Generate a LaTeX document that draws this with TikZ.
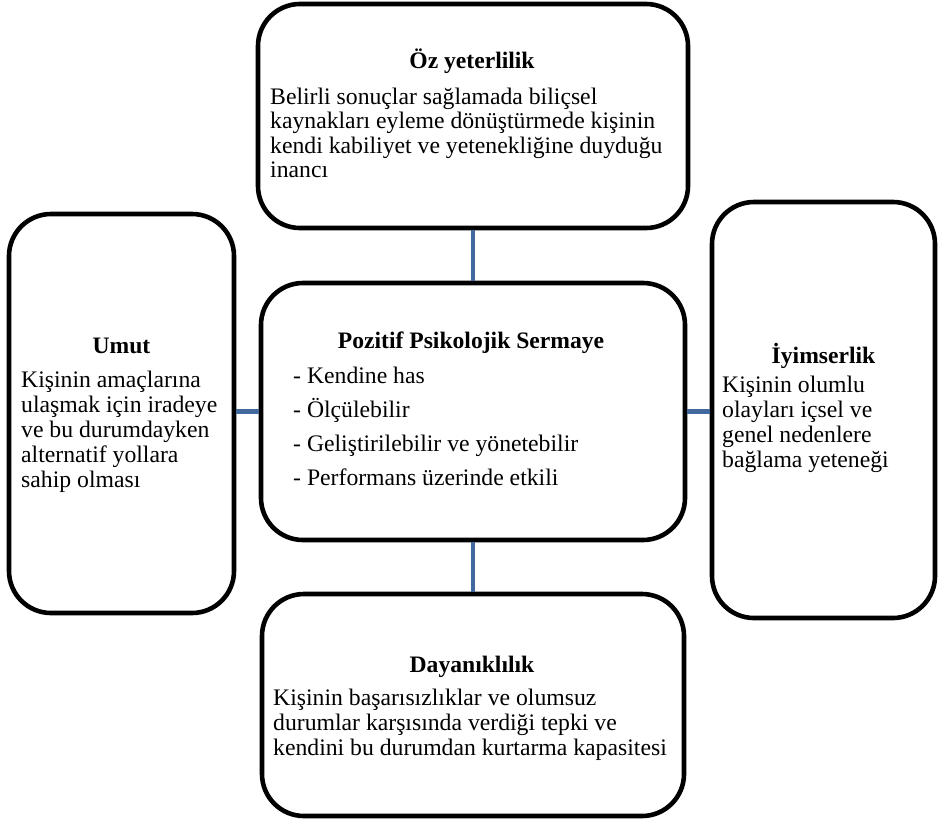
\documentclass[tikz,border=0pt]{standalone}
\usepackage{fontspec}
\setmainfont{Liberation Serif}
\definecolor{linkblue}{HTML}{41699D}
\begin{document}
\begin{tikzpicture}[x=1pt,y=-1pt,
  box/.style={draw=black, line width=4.6pt, rounded corners=42pt, inner sep=0pt, rectangle},
  link/.style={draw=linkblue, line width=4.6pt},
  ttl/.style={font=\fontsize{23.6}{25}\selectfont\bfseries, anchor=base, inner sep=0pt},
  body/.style={font=\fontsize{23.7}{25}\selectfont, anchor=base west, inner sep=0pt}]
\useasboundingbox (0,0) rectangle (944,825);
% boxes
\node[box, minimum width=430pt, minimum height=224pt] (top) at (473,116) {};
\node[box, minimum width=424pt, minimum height=257pt] (mid) at (473,411.5) {};
\node[box, minimum width=225pt, minimum height=399pt] (left) at (121.5,413.5) {};
\node[box, minimum width=223pt, minimum height=416pt] (right) at (823.5,410) {};
\node[box, minimum width=422pt, minimum height=222pt] (bot) at (473,705) {};
% connectors
\draw[link] (top.south) -- (mid.north);
\draw[link] (mid.south) -- (bot.north);
\draw[link] (mid.west) -- (mid.west -| left.east);
\draw[link] (mid.east) -- (mid.east -| right.west);
% top text
\node[ttl] (topt) at (472,68) {Öz yeterlilik};
\foreach \t [count=\i] in {Belirli sonuçlar sağlamada biliçsel, kaynakları eyleme dönüştürmede kişinin, kendi kabiliyet ve yetenekliğine duyduğu, inancı}
  \node[body] (topl\i) at (270,{104+24.6*(\i-1)}) {\t};
% middle text
\node[ttl] (midt) at (471,348) {Pozitif Psikolojik Sermaye};
\foreach \t [count=\i] in {- Kendine has, - Ölçülebilir, - Geliştirilebilir ve yönetebilir, - Performans üzerinde etkili}
  \node[body] (midl\i) at (293,{383+34*(\i-1)}) {\t};
% left text
\node[ttl] (leftt) at (121.5,353) {Umut};
\foreach \t [count=\i] in {Kişinin amaçlarına, ulaşmak için iradeye, ve bu durumdayken, alternatif yollara, sahip olması}
  \node[body] (leftl\i) at (21,{387+25*(\i-1)}) {\t};
% right text
\node[ttl] (rightt) at (823.5,363) {İyimserlik};
\foreach \t [count=\i] in {Kişinin olumlu, olayları içsel ve, genel nedenlere, bağlama yeteneği}
  \node[body] (rightl\i) at (722,{392+25*(\i-1)}) {\t};
% bottom text
\node[ttl] (bott) at (472,672) {Dayanıklılık};
\foreach \t [count=\i] in {Kişinin başarısızlıklar ve olumsuz, durumlar karşısında verdiği tepki ve, kendini bu durumdan kurtarma kapasitesi}
  \node[body] (botl\i) at (273,{705+25*(\i-1)}) {\t};
\end{tikzpicture}
\end{document}
